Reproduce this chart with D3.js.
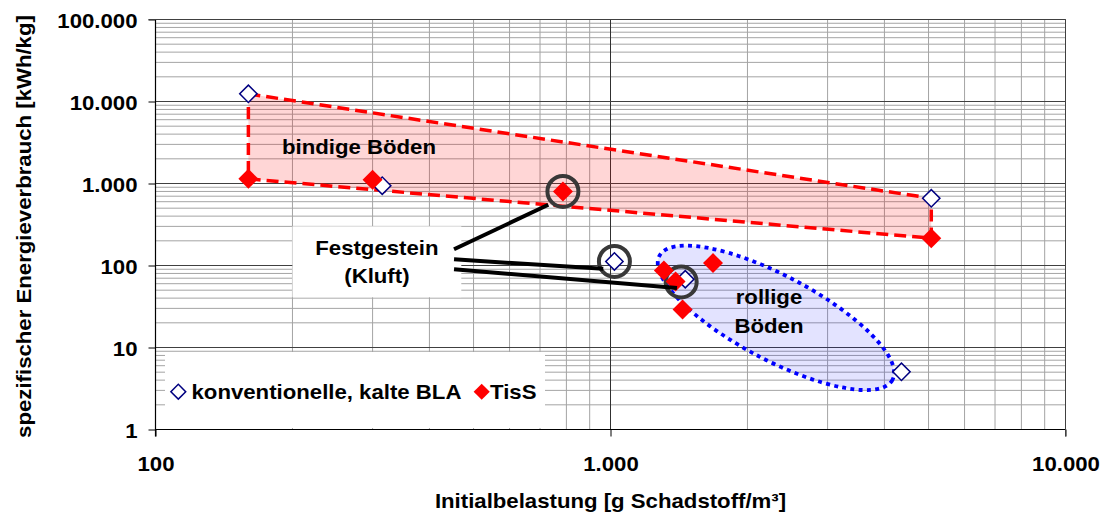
<!DOCTYPE html>
<html>
<head>
<meta charset="utf-8">
<script src="https://cdn.jsdelivr.net/npm/d3@7"></script>
<style>
  body { margin: 0; background: #fff; }
  text { font-family: "Liberation Sans", Arial, sans-serif; font-weight: bold; fill: #000; }
</style>
</head>
<body>
<svg id="chart" width="1104" height="514"></svg>
<script>
// values
const seriesNames = ["konventionelle, kalte BLA", "TisS"];
const blaX = [160, 315, 5070, 1020, 1460, 4360];
const blaY = [12400, 940, 660, 112, 68, 5.05];
const tissX = [160, 300, 786, 5070, 1310, 1390, 1680, 1440];
const tissY = [1140, 1110, 800, 215, 87, 64, 107, 29];

const xTicks = [100, 1000, 10000];
const yTicks = [1, 10, 100, 1000, 10000, 100000];

// "bindige Böden" band corners and circled "Festgestein" points
const bandX = [160, 5070, 5070, 160];
const bandY = [12400, 660, 215, 1140];
const circledX = [786, 1020, 1430];
const circledY = [800, 112, 63];
const leaderStartY = [158, 119, 90];
const leaderEndX = [730, 964, 1400];
const leaderEndY = [550, 91, 53];

const SX = 1.11; // text in the original is drawn a bit wide

const x = d3.scaleLog().domain([100, 10000]).range([155.5, 1065.5]);
const y = d3.scaleLog().domain([1, 100000]).range([429.5, 19.5]);

const de = d3.formatLocale({ decimal: ",", thousands: ".", grouping: [3], currency: ["", "€"] });
const fmt = de.format(",d");

const svg = d3.select("#chart");

const minorOf = (lo, hi) => {
  const out = [];
  for (let p = lo; p < hi; p *= 10) for (let k = 2; k <= 9; k++) out.push(p * k);
  return out;
};

// grid
const grid = svg.append("g");
grid.selectAll(".vmin").data(minorOf(100, 10000)).join("line")
  .attr("x1", d => x(d)).attr("x2", d => x(d))
  .attr("y1", y(100000)).attr("y2", y(1))
  .attr("stroke", "#a4a4a4");
grid.selectAll(".hmin").data(minorOf(1, 100000)).join("line")
  .attr("y1", d => y(d)).attr("y2", d => y(d))
  .attr("x1", x(100)).attr("x2", x(10000))
  .attr("stroke", "#a4a4a4");
grid.selectAll(".vmaj").data(xTicks).join("line")
  .attr("x1", d => x(d)).attr("x2", d => x(d))
  .attr("y1", y(100000)).attr("y2", y(1))
  .attr("stroke", "#303030");
grid.selectAll(".hmaj").data(yTicks).join("line")
  .attr("y1", d => y(d)).attr("y2", d => y(d))
  .attr("x1", x(100)).attr("x2", x(10000))
  .attr("stroke", "#404040");

// bindige Böden band
const band = bandX.map((v, i) => [x(v), y(bandY[i])]);
svg.append("path")
  .attr("d", d3.line()(band) + "Z")
  .attr("fill", "#ff0000").attr("fill-opacity", 0.16)
  .attr("stroke", "#ff0000").attr("stroke-width", 3.5)
  .attr("stroke-dasharray", "12,6");

// rollige Böden ellipse
const ell = { cx: 2310, cy: 23 };
svg.append("ellipse")
  .attr("transform", `translate(${x(ell.cx)},${y(ell.cy)}) rotate(28)`)
  .attr("rx", 132).attr("ry", 42)
  .attr("fill", "#0000ff").attr("fill-opacity", 0.11)
  .attr("stroke", "#0000ff").attr("stroke-width", 3.8)
  .attr("stroke-dasharray", "4,4.3");

// white boxes behind the Festgestein note and the legend
const box = { x0: x(200), x1: x(470), y0: y(300), y1: y(41) };
svg.append("rect")
  .attr("x", box.x0).attr("y", box.y0)
  .attr("width", box.x1 - box.x0).attr("height", box.y1 - box.y0)
  .attr("fill", "#fff");
svg.append("rect")
  .attr("x", 165).attr("y", 352).attr("width", 380).attr("height", 76)
  .attr("fill", "#fff");

// axes
const yAxis = d3.axisLeft(y).tickValues(yTicks).tickFormat(fmt).tickSize(7).tickPadding(11);
const gy = svg.append("g").attr("transform", `translate(${x(100)},0)`).call(yAxis);
gy.selectAll("text")
  .attr("x", -18 / SX).attr("dy", "0.42em")
  .attr("transform", `scale(${SX},1)`)
  .style("font-size", "20px");

const xAxis = d3.axisBottom(x).tickValues(xTicks).tickFormat(fmt).tickSize(7).tickPadding(20);
const gx = svg.append("g").attr("transform", `translate(0,${y(1)})`).call(xAxis);
gx.selectAll("text")
  .attr("transform", `scale(${SX},1)`)
  .style("font-size", "20px");
[gx, gy].forEach(g => {
  g.select(".domain").attr("stroke", "#000").attr("stroke-width", 1.2);
  g.selectAll(".tick line").attr("stroke", "#000");
});
gx.select(".domain").attr("d", `M${x(100)},0H${x(10000)}`);
gy.select(".domain").attr("d", `M0,${y(100000)}V${y(1) + 7}`);
svg.append("path")
  .attr("d", `M${x(100) - 7},${y(100000)}H${x(10000)}V${y(1) + 7}`)
  .attr("fill", "none").attr("stroke", "#404040");

// circles round the Festgestein points
svg.selectAll(".ring").data(circledX).join("circle")
  .attr("cx", d => x(d)).attr("cy", (d, i) => y(circledY[i]))
  .attr("r", 15.5)
  .attr("fill", "none").attr("stroke", "#383838").attr("stroke-width", 4);

// markers
svg.selectAll(".bla").data(blaX).join("path")
  .attr("transform", (d, i) => `translate(${x(d)},${y(blaY[i])}) rotate(45)`)
  .attr("d", d3.symbol().type(d3.symbolSquare).size(150))
  .attr("fill", "#fff").attr("stroke", "#000080").attr("stroke-width", 1.5);
svg.selectAll(".tiss").data(tissX).join("path")
  .attr("transform", (d, i) => `translate(${x(d)},${y(tissY[i])}) rotate(45)`)
  .attr("d", d3.symbol().type(d3.symbolSquare).size(200))
  .attr("fill", "#ff0000");

// leader lines
svg.selectAll(".lead").data(leaderEndX).join("line")
  .attr("x1", x(453)).attr("y1", (d, i) => y(leaderStartY[i]))
  .attr("x2", d => x(d)).attr("y2", (d, i) => y(leaderEndY[i]))
  .attr("stroke", "#000").attr("stroke-width", 4);

// labels
const label = (text, px, py, anchor = "middle", rot = 0) =>
  svg.append("text")
    .attr("transform", `translate(${px},${py}) rotate(${rot}) scale(${SX},1)`)
    .attr("text-anchor", anchor)
    .style("font-size", "20px")
    .text(text);

label("bindige Böden", x(280), y(2300));
label("Festgestein", (box.x0 + box.x1) / 2, box.y0 + 28.6);
label("(Kluft)", (box.x0 + box.x1) / 2, box.y0 + 56.6);
label("rollige", x(2230), y(34));
label("Böden", x(2230), y(15));

label("Initialbelastung [g Schadstoff/m³]", (x(100) + x(10000)) / 2, 508);
label("spezifischer Energieverbrauch [kWh/kg]", 31, (y(1) + y(100000)) / 2 + 2, "middle", -90);

// legend
const lg = svg.append("g");
lg.append("path")
  .attr("transform", "translate(178.3,391.7) rotate(45)")
  .attr("d", d3.symbol().type(d3.symbolSquare).size(110))
  .attr("fill", "#fff").attr("stroke", "#000080").attr("stroke-width", 1.5);
lg.append("path")
  .attr("transform", "translate(481.7,391.7) rotate(45)")
  .attr("d", d3.symbol().type(d3.symbolSquare).size(130))
  .attr("fill", "#ff0000");
label(seriesNames[0], 191.5, 398.5, "start");
label(seriesNames[1], 490, 398.5, "start");
</script>
</body>
</html>
